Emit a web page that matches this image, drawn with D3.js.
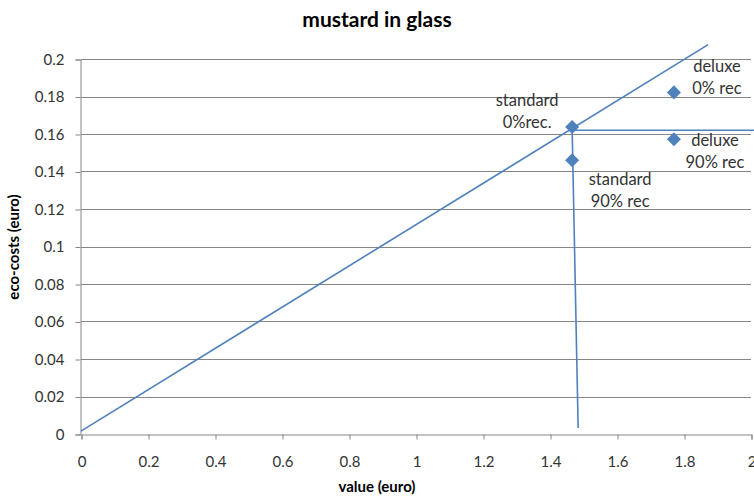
<!DOCTYPE html>
<html>
<head>
<meta charset="utf-8">
<script src="https://cdn.jsdelivr.net/npm/d3@7"></script>
<style>
  body { margin: 0; background: #fff; }
  svg { display: block; font-family: Lato, "Open Sans", sans-serif; }
</style>
</head>
<body>
<svg id="chart" width="754" height="496"></svg>
<script>
// Product variants: value (euro) vs eco-costs (euro)
const pointNames = ["standard 0%rec.", "standard 90% rec", "deluxe 0% rec", "deluxe 90% rec"];
const pointValue = [1.466, 1.466, 1.770, 1.770];
const pointEcoCost = [0.1637, 0.1460, 0.1822, 0.1572];
const pointLabelLines = [["standard", "0%rec."], ["standard", "90% rec"], ["deluxe", "0% rec"], ["deluxe", "90% rec"]];

// Reference lines
const ratioLineX = [0, 1.872];
const ratioLineY = [0.0015, 0.2077];
const dropLineX = [1.466, 1.484];
const dropLineY = [0.1637, 0.0032];
const levelLineX = [1.466, 2.01];
const levelLineY = [0.162, 0.162];

const xTicks = [0, 0.2, 0.4, 0.6, 0.8, 1, 1.2, 1.4, 1.6, 1.8, 2];
const yTicks = [0, 0.02, 0.04, 0.06, 0.08, 0.1, 0.12, 0.14, 0.16, 0.18, 0.2];

const svg = d3.select("#chart");
const plotLeft = 81, plotRight = 751, plotTop = 59, plotBottom = 434;

const x = d3.scaleLinear().domain([0, 2]).range([plotLeft, plotRight]);
const y = d3.scaleLinear().domain([0, 0.2]).range([plotBottom, plotTop]);

const blue = "#4F81BD";
const gridColor = "#868686";
const textColor = "#333333";

// Horizontal gridlines
svg.append("g").selectAll("line").data(yTicks.filter(d => d > 0)).join("line")
  .attr("x1", plotLeft).attr("x2", plotRight)
  .attr("y1", d => Math.round(y(d)) + 0.5).attr("y2", d => Math.round(y(d)) + 0.5)
  .attr("stroke", gridColor).attr("stroke-width", 1);

// Axes
const fmt = d => String(+d.toFixed(2));
const xAxis = d3.axisBottom(x).tickValues(xTicks).tickFormat(fmt).tickSize(5).tickPadding(14);
const yAxis = d3.axisLeft(y).tickValues(yTicks).tickFormat(fmt).tickSize(5).tickPadding(11);

const gx = svg.append("g").attr("transform", `translate(0.5,${plotBottom + 0.5})`).call(xAxis);
const gy = svg.append("g").attr("transform", `translate(${plotLeft - 0.5},0.5)`).call(yAxis);
[gx, gy].forEach(g => {
  g.select(".domain").attr("stroke", gridColor);
  g.selectAll(".tick line").attr("stroke", gridColor);
  g.selectAll(".tick text").attr("fill", textColor).style("font-size", "15px")
    .style("font-family", "Lato, sans-serif");
});
gx.selectAll(".tick text").attr("dy", "0.9em");

// Lines
const line = d3.line().x(d => x(d[0])).y(d => y(d[1]));
[[ratioLineX, ratioLineY], [dropLineX, dropLineY], [levelLineX, levelLineY]].forEach(([xs, ys]) => {
  svg.append("path")
    .datum(xs.map((v, i) => [v, ys[i]]))
    .attr("d", line)
    .attr("fill", "none")
    .attr("stroke", blue)
    .attr("stroke-width", 1.6);
});

// Diamond markers
const diamond = d3.symbol().type(d3.symbolDiamond2).size(125);
svg.append("g").selectAll("path").data(pointValue).join("path")
  .attr("d", diamond)
  .attr("transform", (d, i) => `translate(${x(d)},${y(pointEcoCost[i])})`)
  .attr("fill", blue);

// Point labels (offsets in pixels relative to each marker)
const labelOffsets = [[-45, -21], [48, 25], [43, -20], [41, 7]];
const labels = svg.append("g").attr("fill", textColor).style("font-size", "16.5px");
pointValue.forEach((v, i) => {
  const cx = x(v) + labelOffsets[i][0];
  const cy = y(pointEcoCost[i]) + labelOffsets[i][1];
  const t = labels.append("text").attr("text-anchor", "middle");
  pointLabelLines[i].forEach((s, k) => {
    t.append("tspan").attr("x", cx).attr("y", cy + k * 22).text(s);
  });
});

// Titles
svg.append("text").attr("x", 377).attr("y", 27).attr("text-anchor", "middle")
  .style("font-size", "21px").style("font-weight", "bold").attr("fill", "#000")
  .text("mustard in glass");
svg.append("text").attr("x", 377).attr("y", 492).attr("text-anchor", "middle")
  .style("font-size", "15px").style("font-weight", "bold").attr("fill", "#000")
  .text("value (euro)");
svg.append("text").attr("transform", "translate(19,247) rotate(-90)").attr("text-anchor", "middle")
  .style("font-size", "15px").style("font-weight", "bold").attr("fill", "#000")
  .text("eco-costs (euro)");
</script>
</body>
</html>
